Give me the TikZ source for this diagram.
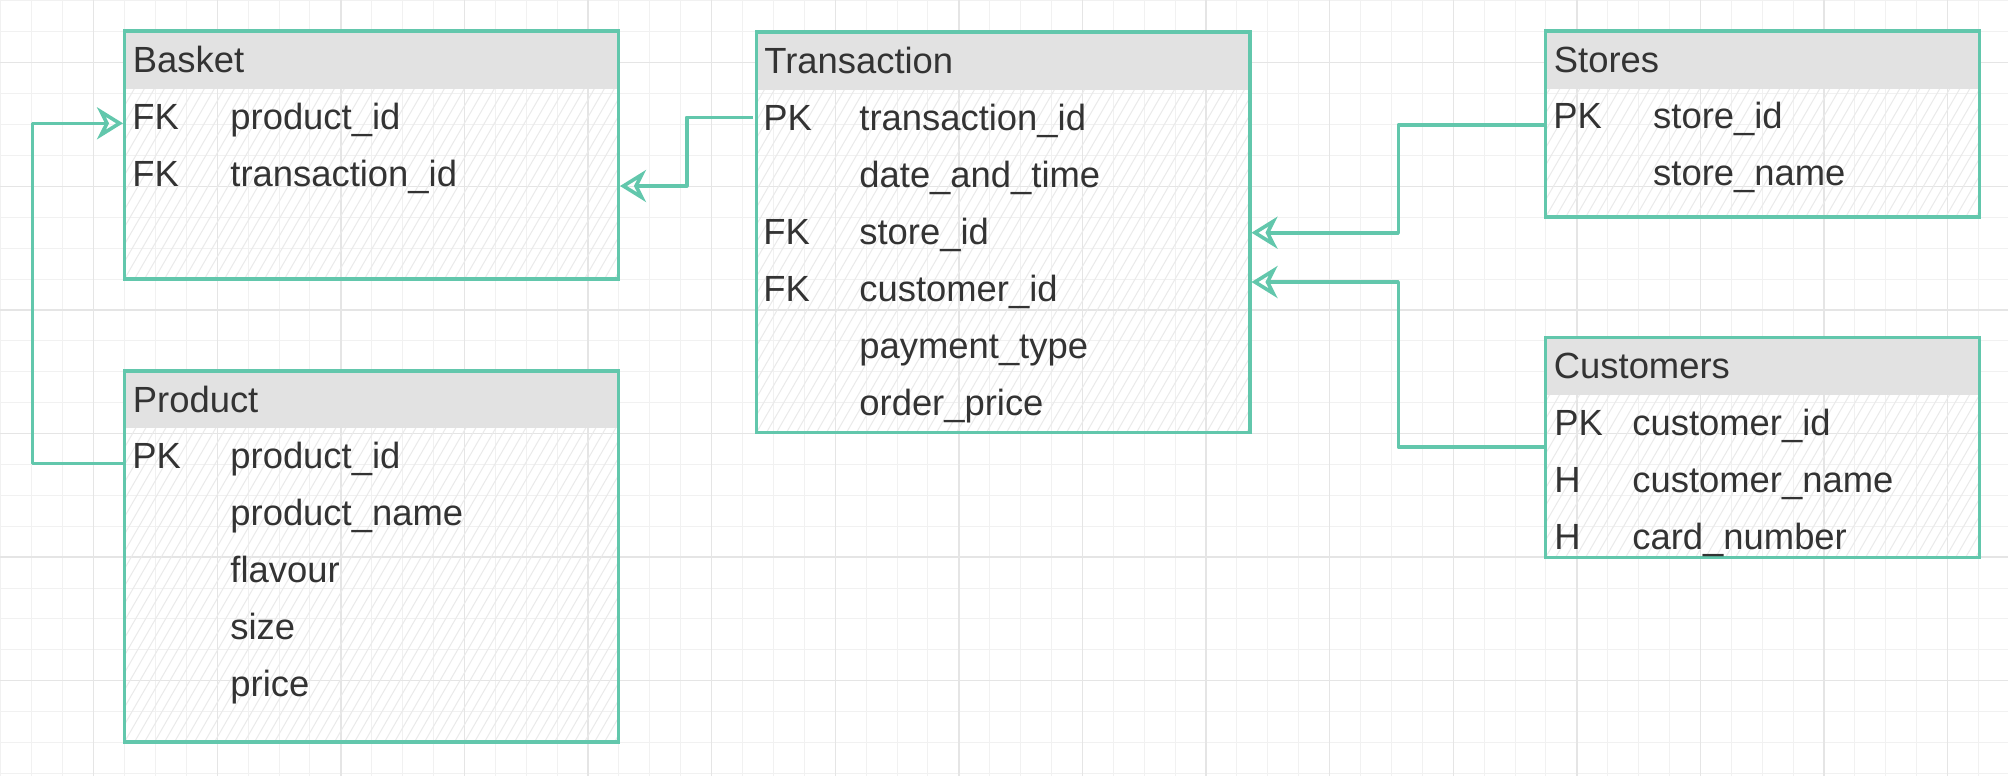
\documentclass[tikz,border=0pt]{standalone}
\usepackage{fontspec}
\setmainfont{Liberation Sans}
\usetikzlibrary{arrows.meta,calc,fit,positioning}

\definecolor{erline}{RGB}{98,199,172}
\definecolor{erhead}{RGB}{226,226,226}
\definecolor{ertext}{RGB}{51,51,51}
\definecolor{gridminor}{RGB}{241,241,241}
\definecolor{gridmajor}{RGB}{229,229,229}
\definecolor{erhatch}{RGB}{234,234,234}

\tikzset{
  gridline/.style={line width=0.5pt, draw=gridminor},
  gridbold/.style={line width=0.7pt, draw=gridmajor},
  hatchline/.style={line width=0.5pt, draw=erhatch},
  tblhead/.style={fill=erhead, inner sep=0pt},
  tblframe/.style={draw=erline, line width=1.6pt, inner sep=0pt},
  field/.style={anchor=base west, inner sep=0pt, text=ertext, font=\fontsize{18.2}{20}\selectfont},
  fklink/.style={draw=erline, line width=1.8pt, line join=round,
    -{Stealth[open, length=13pt, width=16pt, inset=4pt]}},
}

% hatched body of a table: x1, y1 (top), x2, y2 (bottom)
\newcommand{\hatchfield}[4]{%
  \begin{scope}
    \clip (#1,#2) rectangle (#3,#4);
    \pgfmathsetmacro{\hstart}{#1-250}
    \pgfmathsetmacro{\hnext}{#1-240}
    \foreach \hx in {\hstart,\hnext,...,#3}
      \draw[hatchline] (\hx,#4) -- ++(250,-433);
  \end{scope}}

\begin{document}
\begin{tikzpicture}[x=0.5pt,y=-0.5pt]
  \useasboundingbox (0,0) rectangle (2008,776);
  \fill[white] (0,0) rectangle (2008,776);

  % Drawing the grid
  \foreach \k in {0,...,64}
    \draw[gridline] ({0.9+30.9*\k},0) -- ({0.9+30.9*\k},776);
  \foreach \k in {0,...,25}
    \draw[gridline] (0,{0.9+30.9*\k}) -- (2008,{0.9+30.9*\k});
  \foreach \k in {3,7,...,63}
    \draw[gridbold] ({0.9+30.9*\k},0) -- ({0.9+30.9*\k},776);
  \foreach \k in {2,6,...,22}
    \draw[gridbold] (0,{0.9+30.9*\k}) -- (2008,{0.9+30.9*\k});

  % Drawing table Basket
  \hatchfield{124.5}{89}{618.5}{279}
  \node[tblhead, fit={(124.5,31) (618.5,89)}] (basket-head) {};
  \node[tblframe, fit={(124.5,31) (618.5,279)}] (basket) {};
  \node[field] (bk-title) at (132.5,72) {Basket};
  \node[field] (bk-k1) at (132,129) {FK};
  \node[field] (bk-n1) at (230,129) {product\_id};
  \node[field] (bk-k2) at (132,186) {FK};
  \node[field] (bk-n2) at (230,186) {transaction\_id};

  % Drawing table Product
  \hatchfield{124.5}{428}{618.5}{742}
  \node[tblhead, fit={(124.5,371) (618.5,428)}] (product-head) {};
  \node[tblframe, fit={(124.5,371) (618.5,742)}] (product) {};
  \node[field] (pr-title) at (132.5,412) {Product};
  \node[field] (pr-k1) at (132,468) {PK};
  \node[field] (pr-n1) at (230,468) {product\_id};
  \node[field] (pr-n2) at (230,525) {product\_name};
  \node[field] (pr-n3) at (230,582) {flavour};
  \node[field] (pr-n4) at (230,639) {size};
  \node[field] (pr-n5) at (230,696) {price};

  % Drawing table Transaction
  \hatchfield{756.5}{90}{1250}{432.5}
  \node[tblhead, fit={(756.5,32) (1250,90)}] (trans-head) {};
  \node[tblframe, fit={(756.5,32) (1250,432.5)}] (trans) {};
  \node[field] (tx-title) at (764,73) {Transaction};
  \node[field] (tx-k1) at (763,130) {PK};
  \node[field] (tx-n1) at (859,130) {transaction\_id};
  \node[field] (tx-n2) at (859,187) {date\_and\_time};
  \node[field] (tx-k3) at (763,244) {FK};
  \node[field] (tx-n3) at (859,244) {store\_id};
  \node[field] (tx-k4) at (763,301) {FK};
  \node[field] (tx-n4) at (859,301) {customer\_id};
  \node[field] (tx-n5) at (859,358) {payment\_type};
  \node[field] (tx-n6) at (859,415) {order\_price};

  % Drawing table Stores
  \hatchfield{1545.7}{89}{1979.3}{217}
  \node[tblhead, fit={(1545.7,31) (1979.3,89)}] (stores-head) {};
  \node[tblframe, fit={(1545.7,31) (1979.3,217)}] (stores) {};
  \node[field] (st-title) at (1553.5,72) {Stores};
  \node[field] (st-k1) at (1553,128) {PK};
  \node[field] (st-n1) at (1652.8,128) {store\_id};
  \node[field] (st-n2) at (1652.8,185) {store\_name};

  % Drawing table Customers
  \hatchfield{1545.7}{395}{1979.3}{557.3}
  \node[tblhead, fit={(1545.7,337.3) (1979.3,395)}] (cust-head) {};
  \node[tblframe, fit={(1545.7,337.3) (1979.3,557.3)}] (cust) {};
  \node[field] (cu-title) at (1553.5,378) {Customers};
  \node[field] (cu-k1) at (1554,435) {PK};
  \node[field] (cu-n1) at (1632,435) {customer\_id};
  \node[field] (cu-k2) at (1554,492) {H};
  \node[field] (cu-n2) at (1632,492) {customer\_name};
  \node[field] (cu-k3) at (1554,549) {H};
  \node[field] (cu-n3) at (1632,549) {card\_number};

  % Connector end points
  \coordinate (tx-pk) at (753,117.3);
  \coordinate (bk-fk2) at (620,186);
  \coordinate (st-pk) at (1545,125);
  \coordinate (tx-fk1) at (1251.5,232.7);
  \coordinate (cu-pk) at (1545,446.7);
  \coordinate (tx-fk2) at (1251.5,282);
  \coordinate (pr-pk) at (123.5,463.3);
  \coordinate (bk-fk1) at (123,123.3);

  % Drawing the links
  \draw[fklink] (tx-pk) -- ++(-66.3,0) |- (bk-fk2);
  \draw[fklink] (st-pk) -- ++(-146.7,0) |- (tx-fk1);
  \draw[fklink] (cu-pk) -- ++(-146.7,0) |- (tx-fk2);
  \draw[fklink] (pr-pk) -- ++(-91.2,0) |- (bk-fk1);
\end{tikzpicture}
\end{document}
